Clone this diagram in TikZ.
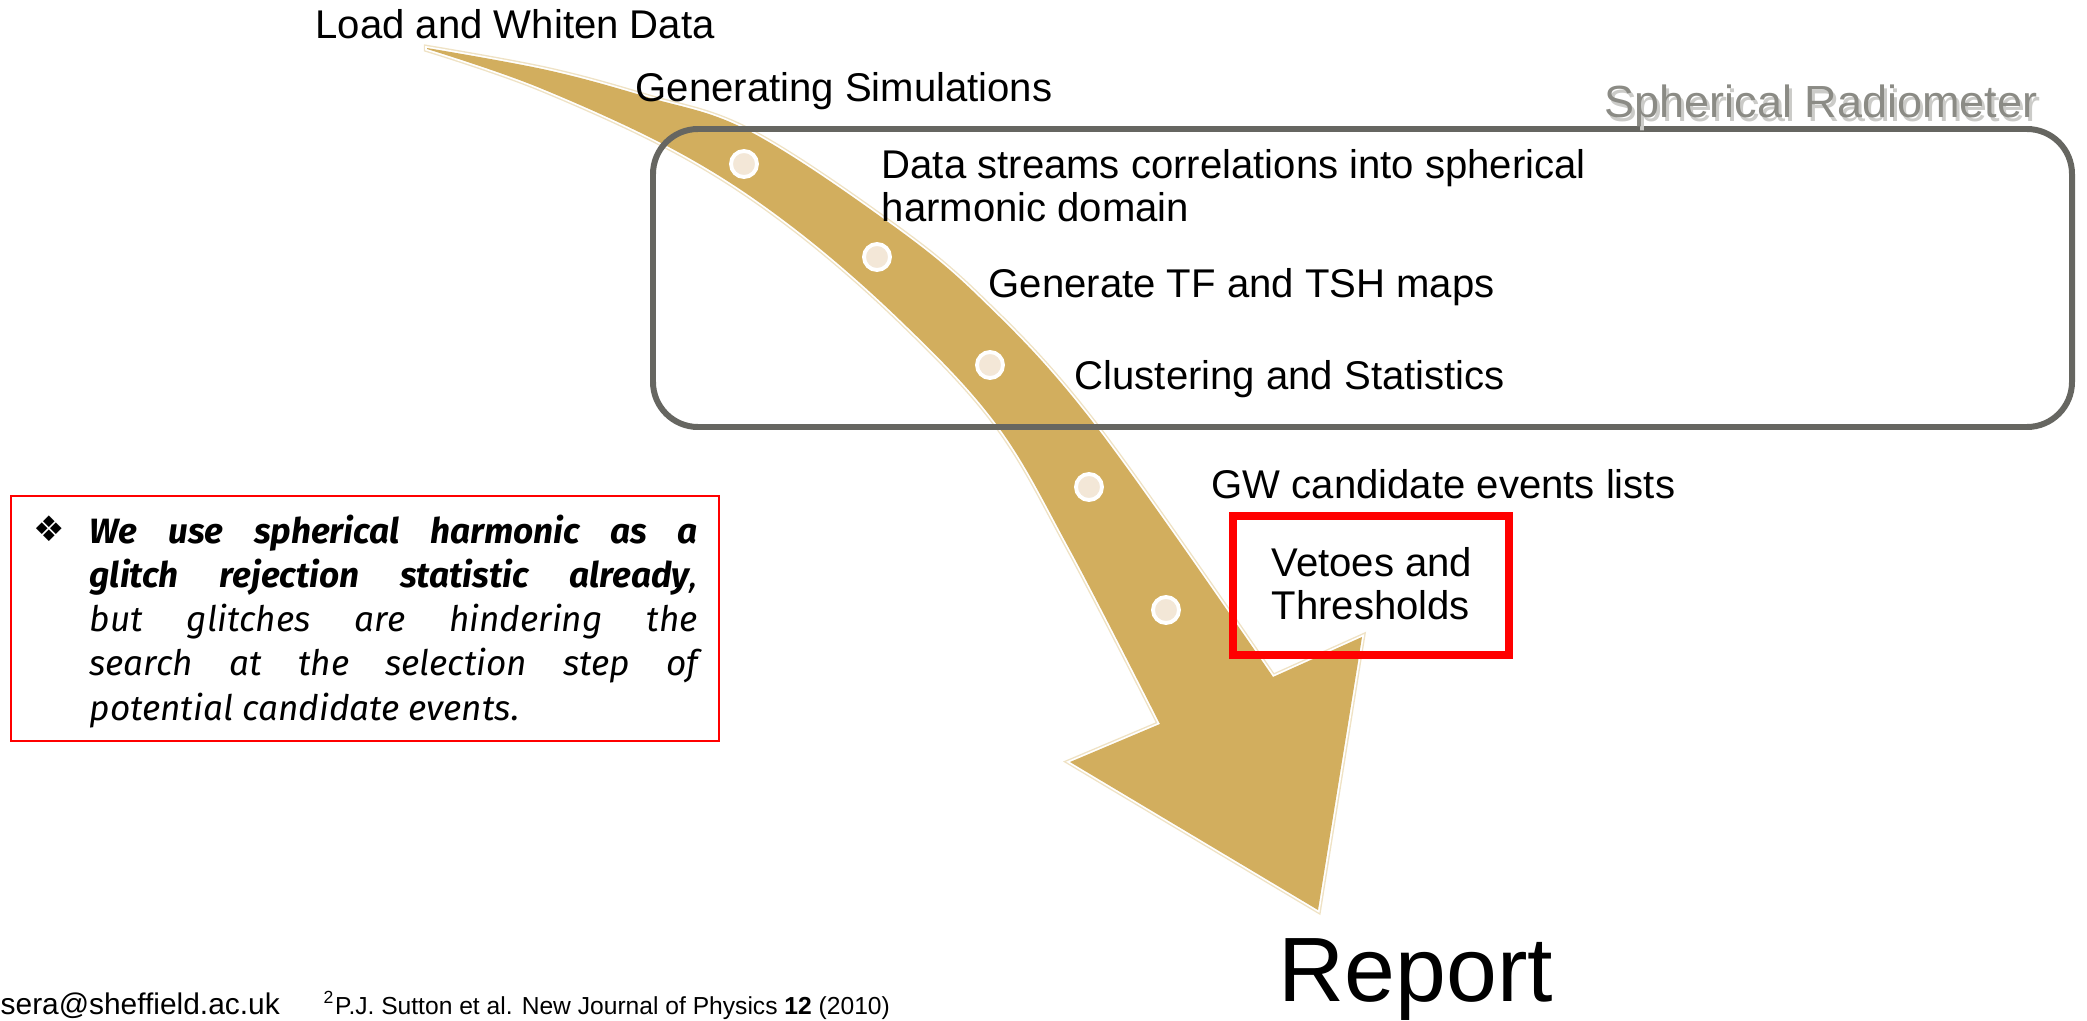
\documentclass[tikz,border=0pt]{standalone}
\usepackage{fontspec}
\setmainfont{Liberation Sans}
\newfontfamily\notefont{Fira Sans}
\newfontfamily\symfont{DejaVu Sans}
\usepackage{xcolor}
\definecolor{arrowgold}{HTML}{D2AE5E}
\definecolor{arrowglow}{HTML}{EFE2C4}
\definecolor{dotcream}{HTML}{F3E7D7}
\definecolor{boxgray}{HTML}{666661}
\definecolor{titlegray}{HTML}{8B8B85}

\begin{document}
\begin{tikzpicture}[x=0.01cm, y=-0.01cm,
  stage/.style = {anchor=base west, inner sep=0pt, align=left, font=\fontsize{11.4}{12.2}\selectfont},
  dot/.style = {draw=white, fill=dotcream, circle, line width=1.1pt, minimum size=0.26cm, inner sep=0pt},
  foot/.style = {anchor=base west, inner sep=0pt}]
\useasboundingbox (0,0) rectangle (2087,1021);

% big curved arrow
\path[fill=arrowgold, line join=round,
      preaction={draw=arrowglow, line width=1.8pt},
      preaction={draw=white, line width=1pt}]
  plot[smooth, tension=0.6] coordinates {(427,48) (547,70) (647,97) (747,130) (881,217) (979,297) (1095,425) (1273,677)}
  -- (1362,637) -- (1318,910) -- (1070,762)
  -- plot[smooth, tension=0.6] coordinates {(1160,724) (1070,550) (997,425) (900,320) (790,225) (680,153) (540,88) (427,49)}
  -- cycle;

\node[dot] (d1) at (744,164) {};
\node[dot] (d2) at (877,257) {};
\node[dot] (d3) at (990,365) {};
\node[dot] (d4) at (1089,487) {};
\node[dot] (d5) at (1166,610) {};

% radiometer block
\draw[boxgray, line width=1.7pt, rounded corners=0.45cm] (653,129) rectangle (2072,427);
\node[foot, text=titlegray!45, font=\fontsize{12.8}{14}\selectfont] at (1607,121) {Spherical Radiometer};
\node[foot, text=titlegray, font=\fontsize{12.8}{14}\selectfont] (radio) at (1604,117) {Spherical Radiometer};

% pipeline steps (two-line nodes sit on their last line)
\node[stage] (load)   at (315,38)   {Load and Whiten Data};
\node[stage] (simgen) at (635,101)  {Generating Simulations};
\node[stage] (corr)   at (881,221)  {Data streams correlations into spherical\\harmonic domain};
\node[stage] (maps)   at (988,297)  {Generate TF and TSH maps};
\node[stage] (clust)  at (1074,389) {Clustering and Statistics};
\node[stage] (gwlist) at (1211,498) {GW candidate events lists};
\draw[red, line width=2pt] (1233,516) rectangle (1509,655);
\node[stage] (vetoes) at (1271,619) {Vetoes and\\Thresholds};
\node[foot, font=\fontsize{26}{30}\selectfont] (report) at (1278,1001) {Report};

% note on the left
\draw[red, line width=0.5pt] (11,496) rectangle (719,741);
\node[foot, font=\symfont\fontsize{10}{12}\selectfont] (bullet) at (33,541) {❖};
\node[foot, text width=6.08cm, align=justify, font=\notefont\itshape\fontsize{10}{12.6}\selectfont] (note) at (89,543)
  {\textbf{We use spherical harmonic as a\linebreak glitch rejection statistic already}, but glitches are hindering the\linebreak search at the selection step of\linebreak potential candidate events.};

% footer
\node[foot, font=\fontsize{8.5}{10}\selectfont] (email) at (0,1014) {sera@sheffield.ac.uk};
\node[foot, font=\fontsize{7}{8}\selectfont] (refnote) at (323,1014) {\textsuperscript{2}P.J. Sutton et al. New Journal of Physics \textbf{12} (2010)};
\end{tikzpicture}
\end{document}
